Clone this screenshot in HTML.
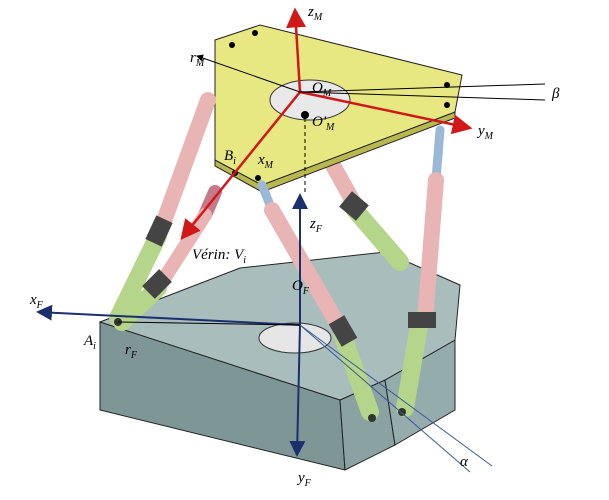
<!DOCTYPE html>
<html><head><meta charset="utf-8"><style>
html,body{margin:0;padding:0;background:#fff}
svg{display:block}
text{font-family:"Liberation Serif",serif;font-style:italic;font-size:15px;fill:#000}
</style></head><body>
<svg width="609" height="500" viewBox="0 0 609 500">
<defs>
<marker id="ar" markerWidth="8" markerHeight="8" refX="7" refY="4" orient="auto"><path d="M0,0L8,4L0,8z" fill="#d01818"/></marker>
<marker id="ab" markerWidth="8" markerHeight="8" refX="7" refY="4" orient="auto"><path d="M0,0L8,4L0,8z" fill="#1a2f6b"/></marker>
<marker id="ak" markerWidth="7" markerHeight="7" refX="6" refY="3.5" orient="auto"><path d="M0,0L7,3.5L0,7z" fill="#000"/></marker>
</defs>
<!-- base -->
<g>
<polygon points="100,322 340,400 345,470 100,410" fill="#7f9696" stroke="#222" stroke-width="1"/>
<polygon points="340,400 385,380 395,445 345,470" fill="#8aa2a2" stroke="#222" stroke-width="1"/>
<polygon points="385,380 455,340 455,410 395,445" fill="#95acac" stroke="#222" stroke-width="1"/>
<polygon points="100,322 240,268 385,252 460,285 455,340 385,380 340,400" fill="#a9bdbd" stroke="#222" stroke-width="1"/>
<ellipse cx="295" cy="338" rx="36" ry="15" fill="#e6e6e6" stroke="#333"/>
</g>
<!-- back legs -->
<g stroke-linecap="round">
<line x1="330" y1="160" x2="355" y2="205" stroke="#e8b4b4" stroke-width="16"/>
<line x1="355" y1="210" x2="400" y2="262" stroke="#b5d68a" stroke-width="18"/>
<rect x="343" y="196" width="22" height="20" fill="#444" transform="rotate(40 354 206)"/>
<line x1="440" y1="130" x2="436" y2="180" stroke="#9bb8d6" stroke-width="9"/>
<line x1="436" y1="180" x2="425" y2="320" stroke="#e8b4b4" stroke-width="16"/>
<line x1="420" y1="320" x2="405" y2="408" stroke="#b5d68a" stroke-width="18"/>
<rect x="408" y="312" width="28" height="16" fill="#444"/>
</g>
<!-- top platform -->
<g>
<polygon points="215,160 262,185 455,112 455,118 262,192 215,166" fill="#b8b84e" stroke="#222"/>
<polygon points="215,40 260,25 462,75 455,112 262,185 215,160" fill="#e8e882" stroke="#222"/>
<ellipse cx="310" cy="100" rx="40" ry="20" fill="#e9e9e9" stroke="#333"/>
<circle cx="232" cy="45" r="3" fill="#000"/><circle cx="255" cy="33" r="3" fill="#000"/>
<circle cx="447" cy="85" r="3" fill="#000"/><circle cx="447" cy="105" r="3" fill="#000"/>
<circle cx="235" cy="173" r="3" fill="#000"/><circle cx="258" cy="178" r="3" fill="#000"/>
<circle cx="305" cy="115" r="4" fill="#000"/>
</g>
<!-- front legs -->
<g stroke-linecap="round">
<line x1="208" y1="100" x2="160" y2="232" stroke="#e8b4b4" stroke-width="16"/>
<line x1="158" y1="236" x2="118" y2="318" stroke="#b5d68a" stroke-width="18"/>
<rect x="146" y="222" width="26" height="18" fill="#444" transform="rotate(-65 159 231)"/>
<line x1="215" y1="192" x2="205" y2="215" stroke="#c47a8a" stroke-width="14"/>
<line x1="205" y1="215" x2="160" y2="285" stroke="#e8b4b4" stroke-width="14"/>
<line x1="158" y1="288" x2="122" y2="322" stroke="#b5d68a" stroke-width="18"/>
<rect x="145" y="275" width="24" height="18" fill="#444" transform="rotate(-45 157 284)"/>
<line x1="262" y1="185" x2="272" y2="210" stroke="#9bb8d6" stroke-width="9"/>
<line x1="272" y1="210" x2="340" y2="328" stroke="#e8b4b4" stroke-width="16"/>
<line x1="342" y1="334" x2="370" y2="412" stroke="#b5d68a" stroke-width="18"/>
<rect x="330" y="322" width="26" height="18" fill="#444" transform="rotate(60 343 331)"/>
<circle cx="118" cy="322" r="4" fill="#333"/><circle cx="372" cy="418" r="4" fill="#333"/><circle cx="402" cy="412" r="4" fill="#333"/>
</g>
<!-- F frame -->
<g stroke="#1a2f6b" stroke-width="2" fill="none">
<line x1="300" y1="325" x2="38" y2="312" marker-end="url(#ab)"/>
<line x1="300" y1="325" x2="300" y2="195" marker-end="url(#ab)"/>
<line x1="300" y1="325" x2="297" y2="455" marker-end="url(#ab)"/>
<line x1="300" y1="325" x2="492" y2="466" stroke-width="1" stroke="#3a5a9a"/>
<line x1="300" y1="325" x2="470" y2="472" stroke-width="1" stroke="#3a5a9a"/>
</g>
<line x1="118" y1="322" x2="300" y2="325" stroke="#000"/>
<line x1="305" y1="118" x2="305" y2="195" stroke="#000" stroke-dasharray="4,3"/>
<!-- M frame -->
<g stroke="#d01818" stroke-width="2.5" fill="none">
<line x1="300" y1="92" x2="295" y2="10" marker-end="url(#ar)"/>
<line x1="300" y1="92" x2="470" y2="128" marker-end="url(#ar)"/>
<line x1="300" y1="92" x2="182" y2="238" marker-end="url(#ar)"/>
</g>
<g stroke="#000" stroke-width="1">
<line x1="300" y1="92" x2="197" y2="56" marker-end="url(#ak)"/>
<line x1="300" y1="92" x2="545" y2="84"/>
<line x1="300" y1="92" x2="545" y2="100"/>
</g>
<text x="308" y="16">z<tspan font-size="10" dy="4">M</tspan></text>
<text x="190" y="62">r<tspan font-size="10" dy="4">M</tspan></text>
<text x="312" y="92">O<tspan font-size="10" dy="4">M</tspan></text>
<text x="312" y="126">O'<tspan font-size="10" dy="4">M</tspan></text>
<text x="552" y="98">β</text>
<text x="478" y="135">y<tspan font-size="10" dy="4">M</tspan></text>
<text x="224" y="160">B<tspan font-size="10" dy="4">i</tspan></text>
<text x="258" y="164">x<tspan font-size="10" dy="4">M</tspan></text>
<text x="310" y="228">z<tspan font-size="10" dy="4">F</tspan></text>
<text x="192" y="259">Vérin: V<tspan font-size="10" dy="4">i</tspan></text>
<text x="30" y="304">x<tspan font-size="10" dy="4">F</tspan></text>
<text x="292" y="290">O<tspan font-size="10" dy="4">F</tspan></text>
<text x="84" y="345">A<tspan font-size="10" dy="4">i</tspan></text>
<text x="125" y="354">r<tspan font-size="10" dy="4">F</tspan></text>
<text x="298" y="482">y<tspan font-size="10" dy="4">F</tspan></text>
<text x="460" y="466">α</text>
</svg>
</body></html>
